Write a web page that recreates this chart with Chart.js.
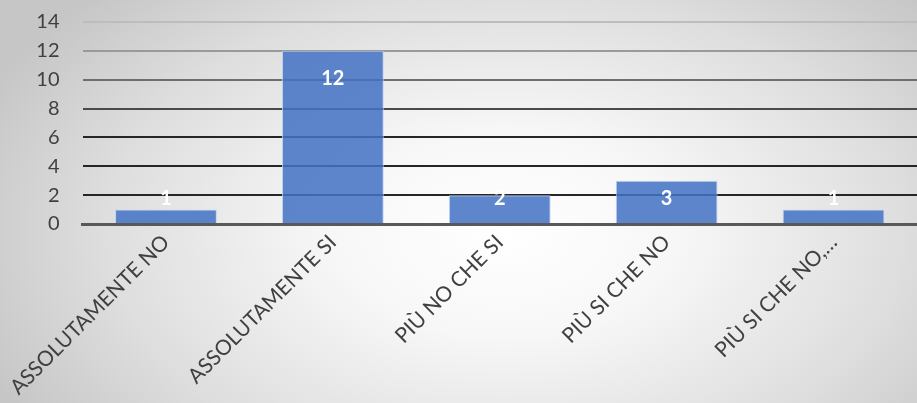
<!DOCTYPE html>
<html>
<head>
<meta charset="utf-8">
<script src="https://cdn.jsdelivr.net/npm/chart.js@4/dist/chart.umd.min.js"></script>
<style>
  html, body { margin: 0; padding: 0; }
  body {
    width: 917px; height: 403px; overflow: hidden;
    background: radial-gradient(ellipse 62% 85% at 55% 58%, #ffffff 0%, #f7f7f7 30%, #dedede 70%, #c6c6c6 100%);
  }
  #wrap { width: 917px; height: 416px; position: relative; top: -13px; }
</style>
</head>
<body>
<div id="wrap"><canvas id="chart"></canvas></div>
<script>
// answers to the survey question
const categories = ['ASSOLUTAMENTE NO', 'ASSOLUTAMENTE SI', 'PIÙ NO CHE SI', 'PIÙ SI CHE NO', 'PIÙ SI CHE NO,…'];
const counts = [1, 12, 2, 3, 1];
const yTicks = [0, 2, 4, 6, 8, 10, 12, 14];

const FONT = 'Lato, "Open Sans", sans-serif';

// white value labels near the top of each bar, kept above the axis for short bars
const valueLabels = {
  id: 'valueLabels',
  afterDatasetsDraw(chart) {
    const ctx = chart.ctx;
    const meta = chart.getDatasetMeta(0);
    const base = chart.scales.y.getPixelForValue(0);
    ctx.save();
    ctx.fillStyle = '#ffffff';
    ctx.font = 'bold 20px ' + FONT;
    ctx.textAlign = 'center';
    ctx.textBaseline = 'middle';
    meta.data.forEach((bar, i) => {
      const y = Math.min(bar.y + 28, base - 25);
      ctx.fillText(String(counts[i]), bar.x, y);
    });
    ctx.restore();
  }
};

const gridShade = v => {
  if (v >= 14) return '#bdbdbd';
  if (v >= 12) return '#9a9a9a';
  if (v >= 10) return '#6e6e6e';
  if (v >= 8) return '#4a4a4a';
  return '#262626';
};

new Chart(document.getElementById('chart'), {
  type: 'bar',
  data: {
    labels: categories,
    datasets: [{
      data: counts,
      backgroundColor: 'rgba(68, 114, 196, 0.86)',
      borderColor: 'rgba(190, 208, 238, 0.9)',
      borderWidth: 1,
      categoryPercentage: 1,
      barPercentage: 0.61
    }]
  },
  options: {
    responsive: true,
    maintainAspectRatio: false,
    animation: false,
    layout: { padding: { top: 7, right: 0, left: 0, bottom: 0 } },
    plugins: {
      legend: { display: false },
      tooltip: { enabled: false }
    },
    scales: {
      x: {
        grid: { display: false, drawTicks: false },
        border: { color: '#595959', width: 3 },
        afterFit: axis => { axis.height = 179; },
        ticks: {
          color: '#404040',
          font: { family: FONT, size: 21 },
          minRotation: 45,
          maxRotation: 45,
          autoSkip: false,
          padding: 6
        }
      },
      y: {
        min: 0,
        max: 14,
        afterBuildTicks: axis => { axis.ticks = yTicks.map(v => ({ value: v })); },
        afterFit: axis => { axis.width = 79; },
        grid: {
          drawTicks: false,
          lineWidth: 2,
          color: c => c.tick && c.tick.value === 0 ? 'rgba(0,0,0,0)' : gridShade(c.tick ? c.tick.value : 0)
        },
        border: { display: false },
        ticks: {
          color: '#404040',
          font: { family: FONT, size: 20 },
          padding: 23
        }
      }
    }
  },
  plugins: [valueLabels]
});
</script>
</body>
</html>
